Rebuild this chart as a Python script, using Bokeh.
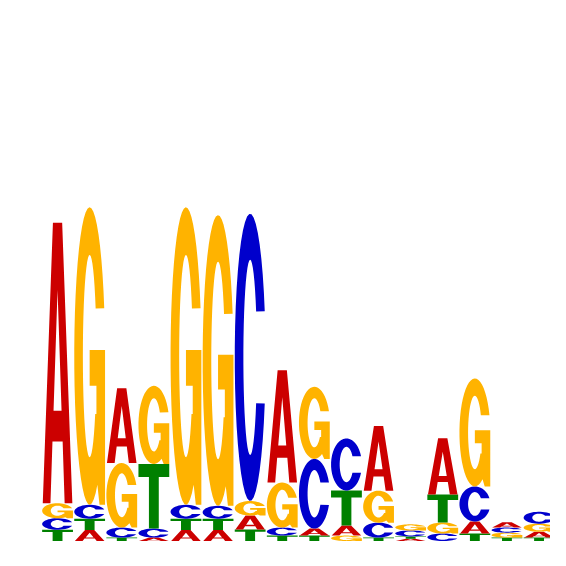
import numpy as np
from bokeh.embed import file_html
from bokeh.models import ColumnDataSource, Range1d
from bokeh.plotting import figure
from bokeh.resources import INLINE

positions = list(range(1, 17))
bits_A = [1.65, 0.064, 0.44, 0.02, 0.064, 0.064, 0.082, 0.66, 0.041, 0.059, 0.38, 0.013, 0.33, 0.071, 0.031, 0.035]
bits_C = [0.068, 0.082, 0.059, 0.053, 0.082, 0.076, 1.69, 0.047, 0.41, 0.306, 0.088, 0.035, 0.044, 0.206, 0.030, 0.070]
bits_G = [0.088, 1.75, 0.38, 0.46, 1.75, 1.71, 0.085, 0.265, 0.424, 0.032, 0.188, 0.036, 0.065, 0.635, 0.029, 0.047]
bits_T = [0.066, 0.067, 0.020, 0.38, 0.067, 0.067, 0.068, 0.032, 0.032, 0.206, 0.020, 0.014, 0.165, 0.044, 0.020, 0.020]

letter_colors = {"A": "#CC0000", "C": "#0000CC", "G": "#FFB300", "T": "#008000"}

PX_PER_COL = 32.1
PX_PER_BIT = 170.0
LEFT_PX = 41.0       # left edge of first column
BASE_PX = 540.5      # baseline, in plot pixels from top
PLOT_W, PLOT_H = 550, 550


def arc(rx, ry, a0, a1, n=40):
    t = np.radians(np.linspace(a0, a1, n))
    return list(0.5 + rx * np.cos(t)), list(0.5 + ry * np.sin(t))


def shape_A():
    ox = [0.02, 0.27, 0.335, 0.665, 0.73, 0.98, 0.65, 0.35]
    oy = [0.0, 0.0, 0.22, 0.22, 0.0, 0.0, 1.0, 1.0]
    hx = [0.37, 0.63, 0.5]
    hy = [0.33, 0.33, 0.76]
    return [(ox, oy), (hx, hy)]


def shape_C():
    x1, y1 = arc(0.5, 0.5, 18.7, 341.3)
    x2, y2 = arc(0.22, 0.34, 332.0, 28.0)
    return [(x1 + x2, y1 + y2)]


def shape_G():
    x1, y1 = arc(0.5, 0.5, 18.7, 300.0)
    x1 += [0.82, 1.0, 1.0, 0.5, 0.5, 0.72, 0.72]
    y1 += [0.0, 0.0, 0.52, 0.52, 0.40, 0.40, 0.305]
    x2, y2 = arc(0.22, 0.34, -35.0, -332.0)
    return [(x1 + x2, y1 + y2)]


def shape_T():
    ox = [0.34, 0.66, 0.66, 1.0, 1.0, 0.0, 0.0, 0.34]
    oy = [0.0, 0.0, 0.80, 0.80, 1.0, 1.0, 0.80, 0.80]
    return [(ox, oy)]


shapes = {"A": shape_A(), "C": shape_C(), "G": shape_G(), "T": shape_T()}

xs, ys, fills = [], [], []
for i, pos in enumerate(positions):
    heights = {"A": bits_A[i], "C": bits_C[i], "G": bits_G[i], "T": bits_T[i]}
    y0 = 0.0
    for letter in sorted(heights, key=heights.get):
        h = heights[letter]
        x0, w = pos - 0.48, 0.96
        rings_x = [[x0 + w * u for u in rx] for rx, ry in shapes[letter]]
        rings_y = [[y0 + h * v for v in ry] for rx, ry in shapes[letter]]
        xs.append([rings_x])
        ys.append([rings_y])
        fills.append(letter_colors[letter])
        y0 += h

source = ColumnDataSource(data=dict(xs=xs, ys=ys, color=fills))

x_start = positions[0] - (LEFT_PX + PX_PER_COL / 2) / PX_PER_COL
p = figure(width=PLOT_W, height=PLOT_H, output_backend="svg", toolbar_location=None,
           x_axis_type=None, y_axis_type=None, min_border=0,
           x_range=Range1d(x_start, x_start + PLOT_W / PX_PER_COL),
           y_range=Range1d(-(PLOT_H - BASE_PX) / PX_PER_BIT, BASE_PX / PX_PER_BIT))
p.multi_polygons(xs="xs", ys="ys", fill_color="color", line_color=None, source=source)
p.grid.visible = False
p.outline_line_color = None
p.background_fill_color = "white"

open("out.html", "w").write(file_html(p, INLINE))
